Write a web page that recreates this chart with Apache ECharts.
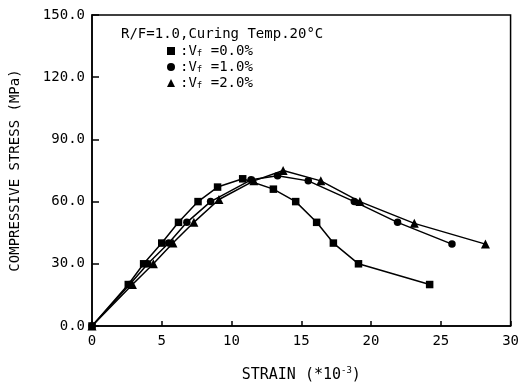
<!DOCTYPE html>
<html>
<head>
<meta charset="utf-8">
<style>html,body{margin:0;padding:0;background:#fff}#c{width:522px;height:390px}</style>
<script src="https://cdn.jsdelivr.net/npm/echarts@6/dist/echarts.min.js"></script>
</head>
<body>
<div id="c"></div>
<script>
var strain0 = [0, 2.6, 3.7, 5.0, 6.2, 7.6, 9.0, 10.8, 13.0, 14.6, 16.1, 17.3, 19.1, 24.2];
var stress0 = [0, 20, 30, 40, 50, 60, 67, 71, 66, 60, 50, 40, 30, 20];
var strain1 = [0, 2.7, 4.0, 5.5, 6.8, 8.5, 11.4, 13.3, 15.5, 18.8, 21.9, 25.8];
var stress1 = [0, 20, 30, 40, 50, 60, 70.5, 72.5, 70, 60, 50, 39.5];
var strain2 = [0, 2.9, 4.4, 5.8, 7.3, 9.1, 11.6, 13.7, 16.4, 19.2, 23.1, 28.2];
var stress2 = [0, 20, 30, 40, 50, 61, 70, 75, 70, 60, 49.5, 39.5];
var seriesNames = ['0.0%', '1.0%', '2.0%'];
var seriesSymbols = ['rect', 'circle', 'triangle'];
var xTicks = [0, 5, 10, 15, 20, 25, 30];
var yTicks = [0, 30, 60, 90, 120, 150];

function zip(a, b) { return a.map(function (v, i) { return [v, b[i]]; }); }
var FONT = 'DejaVu Sans Mono';
var chart = echarts.init(document.getElementById('c'));
var datas = [zip(strain0, stress0), zip(strain1, stress1), zip(strain2, stress2)];

chart.setOption({
  animation: false,
  backgroundColor: '#fff',
  grid: { left: 92, right: 4, top: 15, bottom: 64, show: true, borderColor: '#000', borderWidth: 1.5 },
  xAxis: {
    type: 'value', min: 0, max: 30, interval: 5,
    axisLine: { lineStyle: { color: '#000', width: 1.5 } },
    axisTick: { inside: true, length: 5, lineStyle: { color: '#000', width: 1.5 } },
    splitLine: { show: false },
    axisLabel: { color: '#000', fontFamily: FONT, fontSize: 14, margin: 8 },
    name: 'STRAIN (*10{sup|-3})',
    nameLocation: 'middle', nameGap: 40,
    nameTextStyle: { color: '#000', fontFamily: FONT, fontSize: 15,
      rich: { sup: { fontFamily: FONT, fontSize: 9, color: '#000', padding: [0, 0, 10, 0] } } }
  },
  yAxis: {
    type: 'value', min: 0, max: 150, interval: 30,
    axisLine: { lineStyle: { color: '#000', width: 1.5 } },
    axisTick: { inside: true, length: 7, lineStyle: { color: '#000', width: 1.5 } },
    splitLine: { show: false },
    axisLabel: { color: '#000', fontFamily: FONT, fontSize: 14, margin: 7,
      formatter: function (v) { return v.toFixed(1); } },
    name: 'COMPRESSIVE STRESS (MPa)',
    nameLocation: 'middle', nameGap: 70,
    nameTextStyle: { color: '#000', fontFamily: FONT, fontSize: 14 }
  },
  legend: {
    orient: 'vertical', left: 167, top: 43, itemGap: 0,
    itemWidth: 8, itemHeight: 8, padding: 0,
    data: seriesNames.map(function (n, i) { return { name: n, icon: seriesSymbols[i] }; }),
    formatter: function (n) { return '{t|:V}{s|f}{t| =' + n + '}'; },
    textStyle: { color: '#000', fontFamily: FONT, fontSize: 14, lineHeight: 16,
      rich: { t: { fontFamily: FONT, fontSize: 14, color: '#000', lineHeight: 16 },
              s: { fontFamily: FONT, fontSize: 9, color: '#000', lineHeight: 10, padding: [6, 0, 0, 0] } } },
    itemStyle: { color: '#000' }
  },
  graphic: [{
    type: 'text', left: 121, top: 27,
    style: { text: 'R/F=1.0,Curing Temp.20°C', fill: '#000', font: '14px "DejaVu Sans Mono"' }
  }],
  series: datas.map(function (d, i) {
    return {
      name: seriesNames[i], type: 'line', data: d,
      symbol: seriesSymbols[i], symbolSize: seriesSymbols[i] === 'triangle' ? 9 : 7.5,
      showSymbol: true,
      lineStyle: { color: '#000', width: 1.5 },
      itemStyle: { color: '#000' }
    };
  })
});
</script>
</body>
</html>
